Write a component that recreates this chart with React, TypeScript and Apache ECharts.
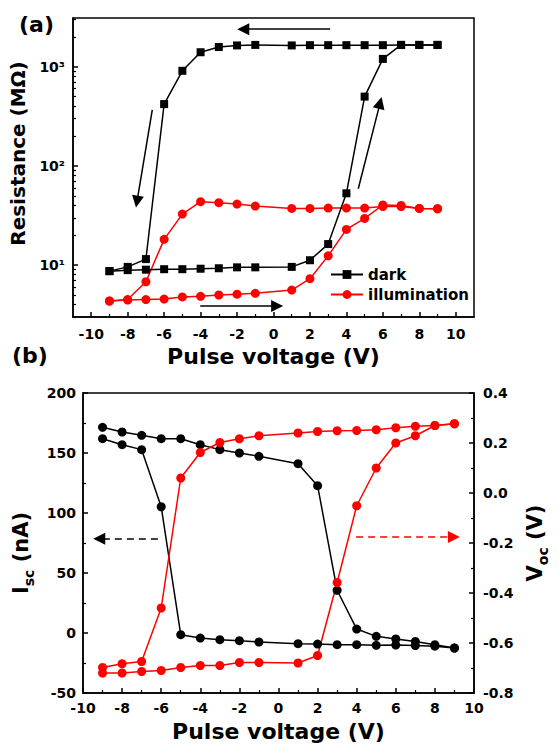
import React, { useEffect, useRef } from 'react';
import * as echarts from 'echarts';

const FONT = '"DejaVu Sans", "Liberation Sans", sans-serif';

// ---------- Panel (a): resistance (MΩ) ----------
const voltsDown = [9, 8, 7, 6, 5, 4, 3, 2, 1, -1, -2, -3, -4, -5, -6, -7, -8, -9];
const voltsUp = [-9, -8, -7, -6, -5, -4, -3, -2, -1, 1, 2, 3, 4, 5, 6, 7, 8, 9];

const darkDown = [1660, 1660, 1660, 1650, 1650, 1650, 1650, 1650, 1640, 1660, 1640, 1580, 1400, 910, 420, 11.5, 9.6, 8.7];
const darkUp = [8.7, 8.9, 9.0, 9.1, 9.1, 9.2, 9.3, 9.5, 9.5, 9.6, 11.2, 16.3, 53, 500, 1200, 1660, 1660, 1660];
const illumDown = [37, 37.3, 39, 39, 37.6, 37.6, 37.6, 37.3, 37.3, 39.4, 41.3, 42.6, 43.6, 32.7, 18.2, 6.8, 4.5, 4.35];
const illumUp = [4.35, 4.45, 4.5, 4.55, 4.78, 4.85, 5.0, 5.1, 5.2, 5.6, 7.3, 12.4, 22.9, 29.6, 40.4, 40, 37.3, 37];

const xTicksA = [-10, -8, -6, -4, -2, 0, 2, 4, 6, 8, 10];
const xMinorA = [-9, -7, -5, -3, -1, 1, 3, 5, 7, 9];
const logMajor = [10, 100, 1000];
const logMinor = [3, 4, 5, 6, 7, 8, 9, 20, 30, 40, 50, 60, 70, 80, 90, 200, 300, 400, 500, 600, 700, 800, 900, 2000, 3000];
const supDigits: Record<number, string> = { 1: '\u00B9', 2: '\u00B2', 3: '\u00B3' };

// arrows in panel (a): [v1, R1, v2, R2]
const arrowsA = [
  [3.11, 2393, -1.66, 2393],
  [-6.65, 368, -7.49, 43.6],
  [4.65, 58.9, 5.85, 432],
  [-4.02, 3.88, 0.2, 3.88],
];

// ---------- Panel (b): Isc (nA) and Voc (V) ----------
const iscUp = [171.4, 167.5, 164.7, 161.9, 161.9, 156.9, 152.8, 150, 147.2, 141.1, 122.8, 35.6, 3.3, -2.8, -5, -7, -9.7, -12.5];
const iscDown = [-12.5, -11, -10.5, -10, -10.3, -9.7, -9.7, -9.2, -8.9, -7.5, -6.4, -5.6, -4.2, -1.4, 105.2, 152.8, 156.9, 161.9];
const vocDown = [0.277, 0.27, 0.267, 0.261, 0.253, 0.25, 0.249, 0.246, 0.24, 0.229, 0.217, 0.202, 0.162, 0.06, -0.46, -0.674, -0.683, -0.698];
const vocUp = [-0.72, -0.72, -0.714, -0.71, -0.698, -0.69, -0.69, -0.678, -0.678, -0.68, -0.65, -0.358, -0.051, 0.1, 0.2, 0.229, 0.27, 0.277];

const arrowIsc = [-6.17, 78.6, -9.17, 78.6];
const arrowVoc = [3.97, -0.176, 8.97, -0.176];

const lg = (v: number) => Math.log10(v);

const tickLabel = { fontFamily: FONT, fontSize: 14, fontWeight: 'bold' as const, color: '#000' };
const lineBlack = { color: '#000', width: 1.5 };

export default function App() {
  const ref = useRef<HTMLDivElement>(null);
  useEffect(() => {
    if (!ref.current) return;
    const chart = echarts.init(ref.current, undefined, { renderer: 'svg' });

    const titleStyle = { fontFamily: FONT, fontSize: 22, fontWeight: 'bold' as const, color: '#000' };
    const richY = {
      i: { fontFamily: FONT, fontSize: 21, fontWeight: 'bold' as const, color: '#000', lineHeight: 30 },
      s: { fontFamily: FONT, fontSize: 14, fontWeight: 'bold' as const, color: '#000', verticalAlign: 'bottom' as const },
    };

    const mkLine = (name: string, xs: number[], ys: number[], color: string, symbol: string, size: number, xi: number, yi: number, tf = (v: number) => v) => ({
      name,
      type: 'line',
      xAxisIndex: xi,
      yAxisIndex: yi,
      data: xs.map((x, k) => [x, tf(ys[k])]),
      symbol,
      symbolSize: size,
      showAllSymbol: true,
      lineStyle: { color, width: 1.5 },
      itemStyle: { color },
      z: 3,
    });

    const mkArrow = (coords: number[][], xi: number, yi: number, color: string, dashed: boolean) => ({
      type: 'lines',
      coordinateSystem: 'cartesian2d',
      xAxisIndex: xi,
      yAxisIndex: yi,
      silent: true,
      symbol: ['none', 'triangle'],
      symbolSize: [7, 12],
      lineStyle: { color, width: 1.5, opacity: 1, type: dashed ? [7, 5] : 'solid' },
      itemStyle: { color },
      data: coords.map((c) => ({ coords: [[c[0], c[1]], [c[2], c[3]]] })),
      z: 5,
    });

    chart.setOption({
      animation: false,
      backgroundColor: '#fff',
      grid: [
        { left: 73, top: 18, width: 401, height: 299, show: true, borderColor: '#000', borderWidth: 1.5, backgroundColor: 'transparent' },
        { left: 73, top: 18, width: 401, height: 299, show: false },
        { left: 83, top: 393, width: 399, height: 300, show: true, borderColor: '#000', borderWidth: 1.5, backgroundColor: 'transparent' },
      ],
      legend: {
        data: ['dark', 'illumination'],
        orient: 'vertical',
        left: 325,
        top: 262,
        itemWidth: 32,
        itemHeight: 11,
        itemGap: 5,
        textStyle: { fontFamily: FONT, fontSize: 15, fontWeight: 'bold', color: '#000' },
      },
      xAxis: [
        {
          gridIndex: 0, type: 'value', min: -11, max: 11,
          axisLine: { onZero: false, lineStyle: lineBlack },
          axisTick: { inside: true, length: 5, customValues: xTicksA, lineStyle: lineBlack },
          axisLabel: { ...tickLabel, margin: 10, customValues: xTicksA },
          splitLine: { show: false },
          name: 'Pulse voltage (V)', nameLocation: 'middle', nameGap: 28, nameTextStyle: titleStyle,
        },
        {
          gridIndex: 1, type: 'value', min: -11, max: 11,
          axisLine: { show: false, onZero: false },
          axisTick: { inside: true, length: 3, customValues: xMinorA, lineStyle: { color: '#000', width: 1.2 } },
          axisLabel: { show: false },
          splitLine: { show: false },
        },
        {
          gridIndex: 2, type: 'value', min: -10, max: 10, interval: 2,
          axisLine: { onZero: false, lineStyle: lineBlack },
          axisTick: { inside: true, length: 5, lineStyle: lineBlack },
          minorTick: { show: true, splitNumber: 2, length: 3, lineStyle: { color: '#000', width: 1.2 } },
          axisLabel: { ...tickLabel, margin: 8 },
          splitLine: { show: false },
          name: 'Pulse voltage (V)', nameLocation: 'middle', nameGap: 27, nameTextStyle: titleStyle,
        },
      ],
      yAxis: [
        {
          gridIndex: 0, type: 'value', min: lg(3), max: lg(3100),
          axisLine: { onZero: false, lineStyle: lineBlack },
          axisTick: { inside: true, length: 5, customValues: logMajor.map(lg), lineStyle: lineBlack },
          axisLabel: {
            ...tickLabel, margin: 8, customValues: logMajor.map(lg),
            formatter: (v: number) => '10' + (supDigits[Math.round(v)] || ''),
          },
          splitLine: { show: false },
          name: 'Resistance (M\u03A9)', nameLocation: 'middle', nameRotate: 90, nameGap: 37,
          nameTextStyle: { fontFamily: FONT, fontSize: 20, fontWeight: 'bold', color: '#000', padding: [0, 0, 0, 28] },
        },
        {
          gridIndex: 1, type: 'value', min: lg(3), max: lg(3100),
          axisLine: { show: false, onZero: false },
          axisTick: { inside: true, length: 3, customValues: logMinor.map(lg), lineStyle: { color: '#000', width: 1.2 } },
          axisLabel: { show: false },
          splitLine: { show: false },
        },
        {
          gridIndex: 2, type: 'value', min: -50, max: 200, interval: 50, position: 'left',
          axisLine: { onZero: false, lineStyle: lineBlack },
          axisTick: { inside: true, length: 5, lineStyle: lineBlack },
          minorTick: { show: true, splitNumber: 2, length: 3, lineStyle: { color: '#000', width: 1.2 } },
          axisLabel: { ...tickLabel, margin: 7 },
          splitLine: { show: false },
          name: '{i|I}{s|sc}{i| (nA)}', nameLocation: 'middle', nameRotate: 90, nameGap: 40,
          nameTextStyle: { rich: richY, padding: [0, 20, 0, 0] },
        },
        {
          gridIndex: 2, type: 'value', min: -0.8, max: 0.4, interval: 0.2, position: 'right',
          axisLine: { onZero: false, lineStyle: lineBlack },
          axisTick: { inside: true, length: 5, lineStyle: lineBlack },
          minorTick: { show: true, splitNumber: 2, length: 3, lineStyle: { color: '#000', width: 1.2 } },
          axisLabel: { ...tickLabel, margin: 9, formatter: (v: number) => v.toFixed(1) },
          splitLine: { show: false },
          name: '{i|V}{s|oc}{i| (V)}', nameLocation: 'middle', nameRotate: 90, nameGap: 42,
          nameTextStyle: { rich: richY },
        },
      ],
      graphic: [
        { type: 'text', left: 19, top: 13, style: { text: '(a)', fontFamily: FONT, fontSize: 22, fontWeight: 'bold', fill: '#000' } },
        { type: 'text', left: 12, top: 344, style: { text: '(b)', fontFamily: FONT, fontSize: 22, fontWeight: 'bold', fill: '#000' } },
      ],
      series: [
        mkLine('illumination', voltsDown, illumDown, '#ff0000', 'circle', 9, 0, 0, lg),
        mkLine('illumination', voltsUp, illumUp, '#ff0000', 'circle', 9, 0, 0, lg),
        mkLine('dark', voltsDown, darkDown, '#000', 'rect', 8, 0, 0, lg),
        mkLine('dark', voltsUp, darkUp, '#000', 'rect', 8, 0, 0, lg),
        mkArrow(arrowsA.map((a) => [a[0], lg(a[1]), a[2], lg(a[3])]), 0, 0, '#000', false),
        mkLine('Isc sweep up', voltsUp, iscUp, '#000', 'circle', 9, 2, 2),
        mkLine('Isc sweep down', voltsDown, iscDown, '#000', 'circle', 9, 2, 2),
        mkLine('Voc sweep down', voltsDown, vocDown, '#ff0000', 'circle', 9, 2, 3),
        mkLine('Voc sweep up', voltsUp, vocUp, '#ff0000', 'circle', 9, 2, 3),
        mkArrow([arrowIsc], 2, 2, '#000', true),
        mkArrow([arrowVoc], 2, 3, '#ff0000', true),
      ],
    });
    return () => chart.dispose();
  }, []);
  return <div ref={ref} style={{ position: 'absolute', left: 0, top: 0, width: 558, height: 748 }} />;
}
